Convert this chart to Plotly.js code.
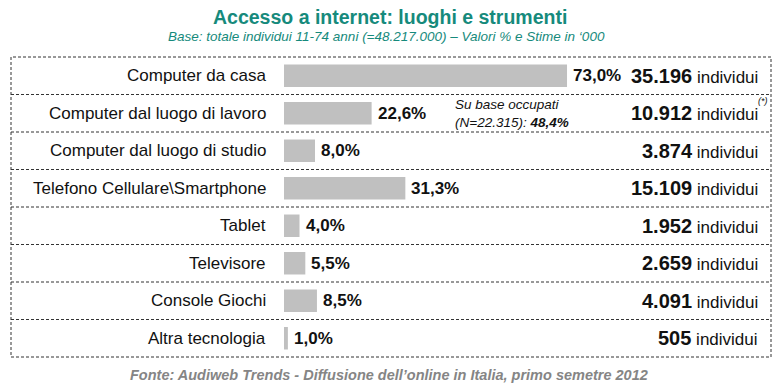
<!DOCTYPE html>
<html><head><meta charset="utf-8">
<script src="https://cdn.plot.ly/plotly-3.0.1.min.js"></script>
<style>body{margin:0;padding:0;background:#fff}</style>
</head><body>
<div id="chart" style="width:781px;height:391px"></div>
<script>
const categories = ["Computer da casa","Computer dal luogo di lavoro","Computer dal luogo di studio","Telefono Cellulare\\Smartphone","Tablet","Televisore","Console Giochi","Altra tecnologia"];
const percentages = [73.0, 22.6, 8.0, 31.3, 4.0, 5.5, 8.5, 1.0];
const individui = [35196, 10912, 3874, 15109, 1952, 2659, 4091, 505];
const titleText = "Accesso a internet: luoghi e strumenti";
const subtitleText = "Base: totale individui 11-74 anni (=48.217.000) – Valori % e Stime in ‘000";
const footerText = "Fonte: Audiweb Trends - Diffusione dell’online in Italia, primo semetre 2012";
const noteLines = ["Su base occupati", "(N=22.315): <b>48,4%</b>"];

const W = 781, H = 391;
const teal = "#168a7c";
const fmtPct = v => v.toFixed(1).replace(".", ",") + "%";
const fmtNum = v => v.toString().replace(/\B(?=(\d{3})+(?!\d))/g, ".");

const yIdx = categories.map((c,i)=>i);
const trace = {
  type: "bar", orientation: "h",
  x: percentages, y: yIdx,
  marker: {color: "#c0c0c0"},
  width: 0.6, hoverinfo: "none"
};

const F = "Liberation Sans, Arial";
const ann = [];
categories.forEach((c,i)=>{
  ann.push({xref:"paper", yref:"y", x:268/W, y:i, xanchor:"right", yanchor:"middle", showarrow:false,
    text:c, font:{family:F, size:17, color:"#111"}});
  ann.push({xref:"x", yref:"y", x:percentages[i], y:i, xanchor:"left", yanchor:"middle", xshift:4, showarrow:false,
    text:"<b>"+fmtPct(percentages[i])+"</b>", font:{family:F, size:17, color:"#111"}});
  ann.push({xref:"paper", yref:"y", x:760/W, y:i, xanchor:"right", yanchor:"middle", showarrow:false,
    text:"<b><span style='font-size:20px'>"+fmtNum(individui[i])+"</span></b> individui",
    font:{family:F, size:17, color:"#111"}});
});
ann.push({xref:"paper", yref:"y", x:453/W, y:1, xanchor:"left", yanchor:"middle", showarrow:false, align:"left",
  text:"<i>"+noteLines.join("<br>")+"</i>", font:{family:F, size:13.5, color:"#111"}});
ann.push({xref:"paper", yref:"y", x:770/W, y:1, xanchor:"right", yanchor:"middle", yshift:12, showarrow:false,
  text:"<i>(*)</i>", font:{family:F, size:9, color:"#111"}});
ann.push({xref:"paper", yref:"paper", x:390/W, y:1-17/H, xanchor:"center", yanchor:"middle", showarrow:false,
  text:"<b>"+titleText+"</b>", font:{family:F, size:19.5, color:teal}});
ann.push({xref:"paper", yref:"paper", x:386/W, y:1-37/H, xanchor:"center", yanchor:"middle", showarrow:false,
  text:"<i>"+subtitleText+"</i>", font:{family:F, size:13.5, color:teal}});
ann.push({xref:"paper", yref:"paper", x:389/W, y:1-375/H, xanchor:"center", yanchor:"middle", showarrow:false,
  text:"<b><i>"+footerText+"</i></b>", font:{family:F, size:14.5, color:"#858585"}});

const shapes = [];
const dashStyle = {color:"#333", width:1, dash:"3px,2px"};
for (let k=0;k<categories.length-1;k++){
  shapes.push({type:"line", xref:"paper", yref:"y", x0:11/W, x1:771/W, y0:k+0.5, y1:k+0.5, line:dashStyle});
}
shapes.push({type:"rect", xref:"paper", yref:"paper", x0:11/W, x1:771/W, y0:1-357/H, y1:1-57/H, line:dashStyle});

const layout = {
  width:W, height:H, margin:{l:0,r:0,t:0,b:0},
  paper_bgcolor:"#fff", plot_bgcolor:"rgba(0,0,0,0)",
  showlegend:false,
  xaxis:{domain:[284/W,1], range:[0,(W-284)/3.877], visible:false, fixedrange:true},
  yaxis:{domain:[1-357/H,1-57/H], range:[7.5,-0.5], visible:false, fixedrange:true},
  annotations:ann, shapes:shapes
};
Plotly.newPlot("chart",[trace],layout,{displayModeBar:false,staticPlot:true});
</script>
</body></html>
